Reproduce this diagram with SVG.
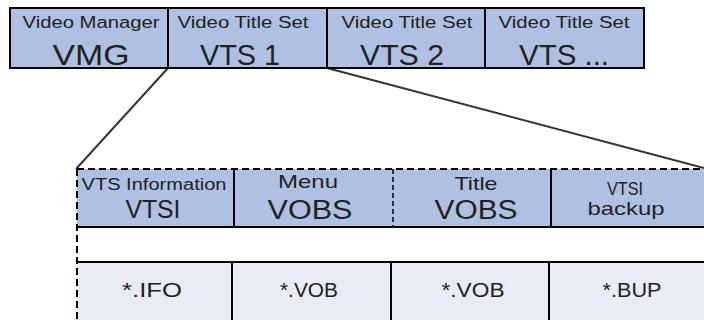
<svg xmlns="http://www.w3.org/2000/svg" width="704" height="320" viewBox="0 0 704 320">
<style>
.t{font-family:"Liberation Sans",Arial,sans-serif;fill:#222;text-anchor:middle}
.hdr{fill:#afc0e2}
.cell{fill:#e8ecf6}
.sl{stroke:#000;stroke-width:2;fill:none}
.dl{stroke:#000;stroke-width:2;fill:none;stroke-dasharray:7 4}
.conn{stroke:#333;stroke-width:2;fill:none}
</style>
<rect x="0" y="0" width="704" height="320" fill="#fff"/>
<g id="connectors">
<line class="conn" x1="168" y1="68" x2="76" y2="169"/>
<line class="conn" x1="327" y1="68" x2="704" y2="168"/>
</g>
<g id="top-row">
<rect class="hdr" x="10" y="8" width="634" height="60"/>
<g id="vmg">
<text class="t" x="91" y="28" font-size="16" textLength="137" lengthAdjust="spacingAndGlyphs">Video Manager</text>
<text class="t" x="91" y="65" font-size="30" textLength="77" lengthAdjust="spacingAndGlyphs">VMG</text>
</g>
<g id="vts1">
<text class="t" x="243" y="28" font-size="16" textLength="131" lengthAdjust="spacingAndGlyphs">Video Title Set</text>
<text class="t" x="240" y="65" font-size="30" textLength="80" lengthAdjust="spacingAndGlyphs">VTS 1</text>
</g>
<g id="vts2">
<text class="t" x="407" y="28" font-size="16" textLength="131" lengthAdjust="spacingAndGlyphs">Video Title Set</text>
<text class="t" x="402" y="65" font-size="30" textLength="84" lengthAdjust="spacingAndGlyphs">VTS 2</text>
</g>
<g id="vtsn">
<text class="t" x="564" y="28" font-size="16" textLength="131" lengthAdjust="spacingAndGlyphs">Video Title Set</text>
<text class="t" x="564" y="65" font-size="30" textLength="90" lengthAdjust="spacingAndGlyphs">VTS ...</text>
</g>
<rect class="sl" x="10" y="8" width="634" height="60"/>
<line class="sl" x1="168" y1="8" x2="168" y2="68"/>
<line class="sl" x1="327" y1="8" x2="327" y2="68"/>
<line class="sl" x1="485" y1="8" x2="485" y2="68"/>
</g>
<g id="vts-detail">
<rect class="hdr" x="77" y="169" width="627" height="58"/>
<rect class="cell" x="77" y="262" width="627" height="58"/>
<g id="vtsi">
<text class="t" x="154" y="190" font-size="16" textLength="145" lengthAdjust="spacingAndGlyphs">VTS Information</text>
<text class="t" x="153" y="218" font-size="25" textLength="55" lengthAdjust="spacingAndGlyphs">VTSI</text>
</g>
<g id="menu-vobs">
<text class="t" x="308" y="188" font-size="18" textLength="60" lengthAdjust="spacingAndGlyphs">Menu</text>
<text class="t" x="310" y="219" font-size="27" textLength="85" lengthAdjust="spacingAndGlyphs">VOBS</text>
</g>
<g id="title-vobs">
<text class="t" x="476" y="190" font-size="19" textLength="43" lengthAdjust="spacingAndGlyphs">Title</text>
<text class="t" x="476" y="219" font-size="27" textLength="83" lengthAdjust="spacingAndGlyphs">VOBS</text>
</g>
<g id="vtsi-backup">
<text class="t" x="625" y="195" font-size="19" textLength="36" lengthAdjust="spacingAndGlyphs">VTSI</text>
<text class="t" x="626" y="215" font-size="19" textLength="77" lengthAdjust="spacingAndGlyphs">backup</text>
</g>
<g id="ifo"><text class="t" x="152" y="297" font-size="20" textLength="60" lengthAdjust="spacingAndGlyphs">*.IFO</text></g>
<g id="vob1"><text class="t" x="309" y="297" font-size="20" textLength="58" lengthAdjust="spacingAndGlyphs">*.VOB</text></g>
<g id="vob2"><text class="t" x="473" y="297" font-size="20" textLength="63" lengthAdjust="spacingAndGlyphs">*.VOB</text></g>
<g id="bup"><text class="t" x="632" y="297" font-size="20" textLength="59" lengthAdjust="spacingAndGlyphs">*.BUP</text></g>
<line class="dl" x1="77" y1="169" x2="704" y2="169"/>
<line class="dl" x1="77" y1="169" x2="77" y2="320"/>
<line class="sl" x1="77" y1="227" x2="704" y2="227"/>
<line class="sl" x1="77" y1="262" x2="704" y2="262"/>
<line class="sl" x1="234" y1="169" x2="234" y2="227"/>
<line x1="393" y1="169" x2="393" y2="227" stroke="#000" stroke-width="1.5" stroke-dasharray="5 3"/>
<line class="sl" x1="551" y1="169" x2="551" y2="227"/>
<line class="sl" x1="232" y1="262" x2="232" y2="320"/>
<line class="sl" x1="391" y1="262" x2="391" y2="320"/>
<line class="sl" x1="549" y1="262" x2="549" y2="320"/>
</g>
</svg>
